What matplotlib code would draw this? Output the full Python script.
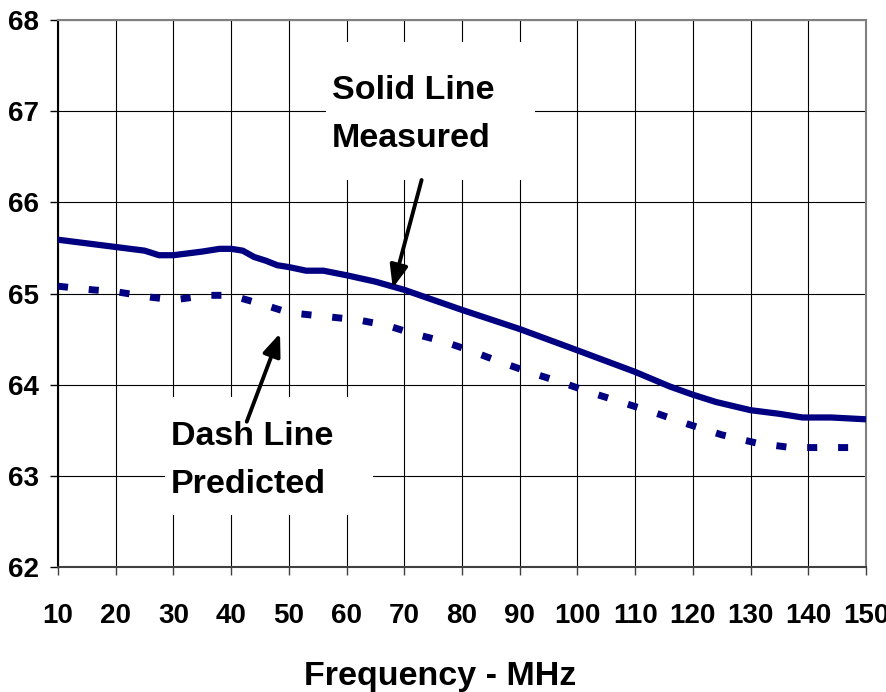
import matplotlib
matplotlib.use("Agg")
import matplotlib.pyplot as plt
from matplotlib.patches import Rectangle, FancyArrowPatch
from matplotlib import font_manager

plt.rcParams['font.family'] = ['Liberation Sans', 'DejaVu Sans']
plt.rcParams['font.weight'] = 'bold'

# Measured (solid line)
meas_x = [10, 20, 25, 27.5, 30, 35, 38, 40, 42, 44, 46, 48, 50, 53, 56, 60, 65, 70, 75,
          80, 90, 99, 110, 116, 120, 124, 130, 135, 139, 144, 150]
meas_y = [65.59, 65.51, 65.47, 65.42, 65.42, 65.46, 65.49, 65.49, 65.47, 65.40, 65.36,
          65.31, 65.29, 65.25, 65.25, 65.20, 65.13, 65.04, 64.93,
          64.82, 64.61, 64.40, 64.14, 63.98, 63.89, 63.81, 63.72, 63.68, 63.64, 63.64, 63.62]

# Predicted (dashed line)
pred_x = [10, 16, 20, 26, 30, 36, 40, 46, 50, 56, 62, 67, 71, 77, 82, 87, 92, 97.5,
          102.5, 108, 113.5, 119, 125, 131, 137, 142, 150]
pred_y = [65.08, 65.04, 65.02, 64.96, 64.93, 64.98, 64.98, 64.87, 64.79, 64.75, 64.71,
          64.65, 64.57, 64.47, 64.36, 64.24, 64.13, 64.02,
          63.91, 63.80, 63.69, 63.57, 63.45, 63.36, 63.31, 63.31, 63.31]

x_ticks = list(range(10, 151, 10))
y_ticks = list(range(62, 69))

navy = '#000080'

names = {f.name for f in font_manager.fontManager.ttflist}
if 'Liberation Sans Narrow' in names:
    tick_font = ['Liberation Sans Narrow', 'Liberation Sans']
    tick_size = 22
else:
    tick_font = ['Liberation Sans', 'DejaVu Sans']
    tick_size = 20

fig = plt.figure(figsize=(8.87, 6.92), dpi=100)
ax = fig.add_axes([58/887, 1-567/692, (866-58)/887, (567-20)/692])
ax.set_xlim(10, 150)
ax.set_ylim(62, 68)
ax.set_xticks(x_ticks)
ax.set_yticks(y_ticks)
ax.set_xticklabels([str(v) for v in x_ticks], fontsize=tick_size, fontweight='bold',
                   family=tick_font)
ax.set_yticklabels([str(v) for v in y_ticks], fontsize=tick_size, fontweight='bold',
                   family=tick_font)
ax.tick_params(axis='x', direction='out', length=6, width=1, color='#404040', pad=20)
ax.tick_params(axis='y', direction='out', length=6, width=1, color='black', pad=8)
ax.set_axisbelow(True)
ax.grid(True, color='black', linewidth=0.8)
ax.spines['top'].set_color('#808080')
ax.spines['right'].set_color('#808080')
ax.spines['left'].set_color('black')
ax.spines['bottom'].set_color('#404040')
for s in ax.spines.values():
    s.set_linewidth(1.5)

ax.plot(meas_x, meas_y, color=navy, linewidth=4.5, solid_capstyle='round', zorder=3)
ax.plot(pred_x, pred_y, color=navy, linewidth=5.0, linestyle=(0, (1.45, 3.0)),
        dash_capstyle='butt', zorder=3)

# white boxes behind annotation texts
ax.add_patch(Rectangle((56.4, 66.24), 92.7-56.4, 67.76-66.24, facecolor='white',
                       edgecolor='none', zorder=1.5))
ax.add_patch(Rectangle((28.5, 62.57), 64.6-28.5, 63.86-62.57, facecolor='white',
                       edgecolor='none', zorder=1.5))

ax.text(57.4, 67.133, 'Solid Line', fontsize=24.5, fontweight='bold', ha='left',
        va='baseline', zorder=4)
ax.text(57.4, 66.607, 'Measured', fontsize=24.5, fontweight='bold', ha='left',
        va='baseline', zorder=4)
ax.text(29.5, 63.338, 'Dash Line', fontsize=24.5, fontweight='bold', ha='left',
        va='baseline', zorder=4)
ax.text(29.5, 62.808, 'Predicted', fontsize=24.5, fontweight='bold', ha='left',
        va='baseline', zorder=4)

for (x0, y0), (x1, y1) in [((73.0, 66.245), (68.0, 65.06)),
                           ((42.7, 63.594), (48.47, 64.563))]:
    arr = FancyArrowPatch((x0, y0), (x1, y1),
                          arrowstyle='-|>,head_length=0.45,head_width=0.18',
                          mutation_scale=30, color='black', linewidth=2.8,
                          shrinkA=0, shrinkB=0, zorder=5)
    ax.add_patch(arr)

fig.text(440/887, 1-685/692, 'Frequency - MHz', fontsize=24.5, fontweight='bold',
         ha='center', va='baseline')

fig.savefig('out.png', dpi=100)
